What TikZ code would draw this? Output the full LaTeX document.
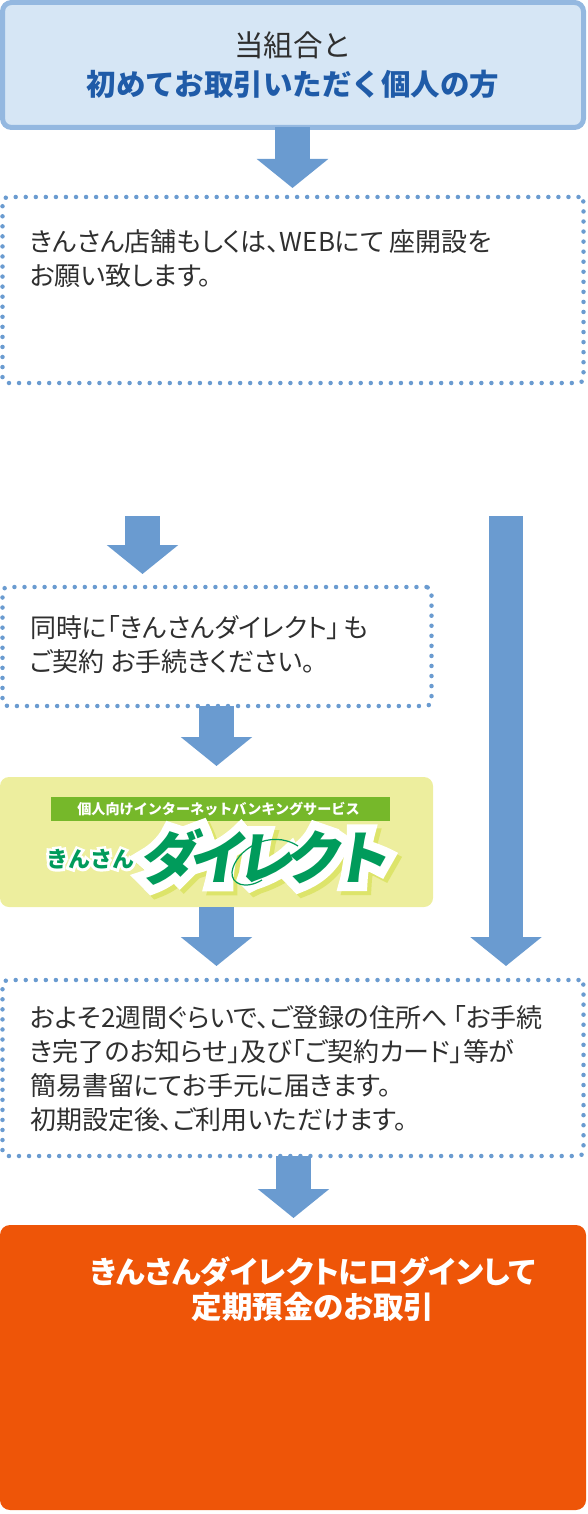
\documentclass[tikz,border=0pt]{standalone}
\usepackage{fontspec}
\usetikzlibrary{arrows.meta,calc}
\setmainfont{Noto Sans CJK JP}[RawFeature=+palt]
\newfontfamily\jpfull{Noto Sans CJK JP}
\newfontfamily\jpheavy{Noto Sans CJK JP Black}
\newfontfamily\jpfat{Noto Sans CJK JP Black}[FakeBold=30]
\newfontfamily\jpfatsmall{Noto Sans CJK JP Black}[FakeBold=25]
\definecolor{flowblue}{HTML}{6A9BD0}
\definecolor{headfill}{HTML}{D6E6F5}
\definecolor{headline}{HTML}{94B8E0}
\definecolor{headtext}{HTML}{1F5BA8}
\definecolor{bodytext}{HTML}{2F2F2F}
\definecolor{logobg}{HTML}{EDEE9E}
\definecolor{logobar}{HTML}{76B82A}
\definecolor{logogreen}{HTML}{009B5B}
\definecolor{logoshadow}{HTML}{DDE46A}
\definecolor{finalbox}{HTML}{EE5508}
\newcommand{\logoword}{ダ\hspace{-10pt}イ\hspace{-10pt}レ\hspace{-10pt}ク\hspace{-10pt}ト}
\tikzset{
  x=1pt,y=-1pt,
  every node/.style={outer sep=0pt},
  dotbox/.style={draw=flowblue,line width=4.5pt,line cap=round,dash pattern=on 0pt off 10.05pt,rounded corners=5pt,anchor=north west,inner sep=0pt},
  bodylabel/.style={anchor=north west,align=left,inner sep=0pt,text=bodytext,font=\fontsize{26}{34}\selectfont},
  flowarrow/.style={draw=flowblue,line width=34.5pt,-{Triangle[width=70pt,length=29pt,fill=flowblue]},shorten >=0pt},
  logoword/.style={inner sep=0pt,xslant=0.16,transform shape,font=\fontsize{58}{58}\selectfont},
  logosmall/.style={inner sep=0pt,font=\fontsize{22}{22}\selectfont},
}
\begin{document}
\begin{tikzpicture}
\useasboundingbox (0,0) rectangle (587,1514);
% boxes
\node[draw=headline,fill=headfill,line width=5pt,rounded corners=9pt,minimum width=581pt,minimum height=125pt,anchor=north west,inner sep=0pt,align=center,
  font=\jpfull\fontsize{29.5}{39.5}\selectfont,text=bodytext] (start) at (2.5,2.5) {当組合と\\{\bfseries\color{headtext}初めてお取引いただく個人の方}};
\node[dotbox,minimum width=581pt,minimum height=186pt] (branch) at (2.5,197) {};
\node[bodylabel] (branchtext) at (30,230) {きんさん店舗もしくは、WEBにて 座開設を\\お願い致します。};
\node[dotbox,minimum width=429pt,minimum height=119pt] (contract) at (2.5,587) {};
\node[bodylabel] (contracttext) at (30,615) {同時に「きんさんダイレクト」\hspace{3pt}も\\ご契約 お手続きください。};
\node[fill=logobg,rounded corners=9pt,minimum width=433pt,minimum height=130pt,anchor=north west,inner sep=0pt] (logo) at (0,777) {};
\node[fill=logobar,minimum width=339pt,minimum height=24pt,anchor=north west,inner sep=0pt,text=white,font=\jpfull\fontsize{14.1}{14.1}\selectfont\bfseries] (logobar) at (51,797) {\hspace{-4pt}個人向けインターネットバンキングサービス};
% logo word mark
\node[logoword,text=logoshadow] (wordshadow) at (272,861) {\jpfat\logoword};
\node[logoword,text=white] (wordhalo) at (268,857) {\jpfat\logoword};
\node[logosmall,text=white] (smallhalo) at (90,859) {\jpfatsmall きんさん};
\draw[logogreen,line width=1.2pt] (298,846) .. controls (270,828) and (235,850) .. (232,872) .. controls (231,884) and (245,890) .. (262,880);
\node[logoword,text=logogreen] (word) at (268,857) {\jpheavy\logoword};
\node[logosmall,text=logogreen] (small) at (90,859) {\jpheavy きんさん};
\node[dotbox,minimum width=581pt,minimum height=176pt] (receive) at (2.5,980) {};
\node[bodylabel] (receivetext) at (30,1005) {およそ2週間ぐらいで、ご登録の住所へ\hspace{5pt}「お手続\\き完了のお知らせ」及び「ご契約カード」等が\\簡易書留にてお手元に届きます。\\初期設定後、ご利用いただけます。};
\node[fill=finalbox,rounded corners=10pt,minimum width=586pt,minimum height=285pt,anchor=north west,inner sep=0pt] (final) at (0,1225) {};
\node[inner sep=0pt,align=center,text=white,font=\fontsize{30.5}{35}\selectfont\bfseries,anchor=center] (finaltext) at (313,1289.5) {きんさんダイレクトにログインして\\定期預金のお取引};
% free starts of the two branch arrows
\coordinate (leftstart) at (142.5,516);
\coordinate (rightstart) at (506,516);
\coordinate (lefttip) at (142.5,574);
\coordinate (righttip) at (506,966);
\coordinate (a1tip) at (292.5,188);
\coordinate (a3tip) at (216.5,766);
\coordinate (a4tip) at (216.5,966);
\coordinate (a5tip) at (293.5,1218);
% connectors
\draw[flowarrow] (start.south -| a1tip) -- (a1tip);
\draw[flowarrow] (leftstart) -- (lefttip);
\draw[flowarrow] (rightstart) -- (righttip);
\draw[flowarrow] (contract.south -| a3tip) -- (a3tip);
\draw[flowarrow] (logo.south -| a4tip) -- (a4tip);
\draw[flowarrow] (receive.south -| a5tip) -- (a5tip);
\end{tikzpicture}
\end{document}
